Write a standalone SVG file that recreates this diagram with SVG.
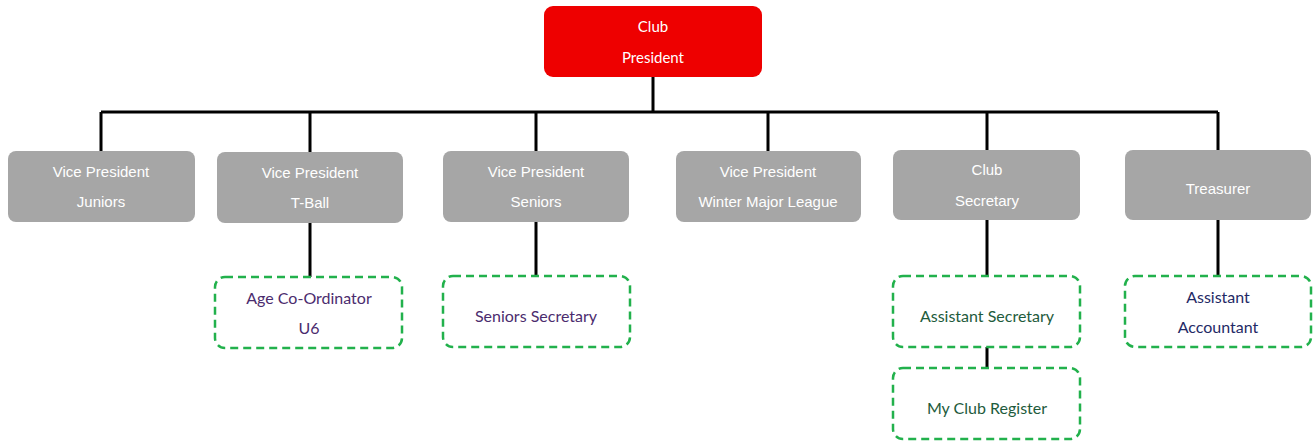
<svg xmlns="http://www.w3.org/2000/svg" width="1313" height="441" viewBox="0 0 1313 441">
<defs>
<style>
.pres{fill:#ee0000;}
.gray{fill:#a6a6a6;}
.dash{fill:#ffffff;stroke:#22b14c;stroke-width:2.5;stroke-dasharray:8 5;}
.conn{stroke:#000000;stroke-width:3;fill:none;}
.wt{fill:#ffffff;font-family:Lato,"Liberation Sans",sans-serif;font-size:15px;text-anchor:middle;dominant-baseline:central;}
.gt{fill:#ffffff;font-family:"Liberation Sans",Arial,sans-serif;font-size:15px;text-anchor:middle;dominant-baseline:central;}
.pt{fill:#4b2c6e;font-family:Lato,"Liberation Sans",sans-serif;font-size:16px;text-anchor:middle;dominant-baseline:central;}
.grt{fill:#1e5b3c;font-family:Lato,"Liberation Sans",sans-serif;font-size:16px;text-anchor:middle;dominant-baseline:central;}
.nt{fill:#1f2a66;font-family:Lato,"Liberation Sans",sans-serif;font-size:16px;text-anchor:middle;dominant-baseline:central;}
</style>
</defs>
<rect width="1313" height="441" fill="#ffffff"/>
<g id="connectors">
<path class="conn" d="M653 77 V112 M101 112 H1218 M101 112 V151 M310 112 V152 M536 112 V151 M768 112 V151 M987 112 V150 M1218 112 V150"/>
<path class="conn" d="M310 223 V277 M536 222 V276 M987 220 V276 M987 347 V368 M1218 220 V276"/>
</g>
<g id="president">
<rect class="pres" x="544" y="6" width="218" height="71" rx="9"/>
<text class="wt" x="653" y="26">Club</text>
<text class="wt" x="653" y="57">President</text>
</g>
<g id="vp-juniors">
<rect class="gray" x="8" y="151" width="187" height="71" rx="8"/>
<text class="gt" x="101" y="171">Vice President</text>
<text class="gt" x="101" y="201">Juniors</text>
</g>
<g id="vp-tball">
<rect class="gray" x="217" y="152" width="186" height="71" rx="8"/>
<text class="gt" x="310" y="172">Vice President</text>
<text class="gt" x="310" y="202">T-Ball</text>
</g>
<g id="vp-seniors">
<rect class="gray" x="443" y="151" width="186" height="71" rx="8"/>
<text class="gt" x="536" y="171">Vice President</text>
<text class="gt" x="536" y="201">Seniors</text>
</g>
<g id="vp-winter">
<rect class="gray" x="676" y="151" width="185" height="71" rx="8"/>
<text class="gt" x="768" y="171">Vice President</text>
<text class="gt" x="768" y="201">Winter Major League</text>
</g>
<g id="club-secretary">
<rect class="gray" x="893" y="150" width="187" height="70" rx="8"/>
<text class="gt" x="987" y="169">Club</text>
<text class="gt" x="987" y="200">Secretary</text>
</g>
<g id="treasurer">
<rect class="gray" x="1125" y="150" width="186" height="70" rx="8"/>
<text class="gt" x="1218" y="188">Treasurer</text>
</g>
<g id="age-coordinator">
<rect class="dash" x="215" y="277" width="187" height="71" rx="10"/>
<text class="pt" x="309" y="297">Age Co-Ordinator</text>
<text class="pt" x="309" y="327">U6</text>
</g>
<g id="seniors-secretary">
<rect class="dash" x="443" y="276" width="187" height="71" rx="10"/>
<text class="pt" x="536" y="315">Seniors Secretary</text>
</g>
<g id="assistant-secretary">
<rect class="dash" x="893" y="276" width="187" height="71" rx="10"/>
<text class="grt" x="987" y="315">Assistant Secretary</text>
</g>
<g id="my-club-register">
<rect class="dash" x="893" y="368" width="187" height="71" rx="10"/>
<text class="grt" x="987" y="407">My Club Register</text>
</g>
<g id="assistant-accountant">
<rect class="dash" x="1125" y="276" width="186" height="71" rx="10"/>
<text class="nt" x="1218" y="296">Assistant</text>
<text class="nt" x="1218" y="326">Accountant</text>
</g>
</svg>
